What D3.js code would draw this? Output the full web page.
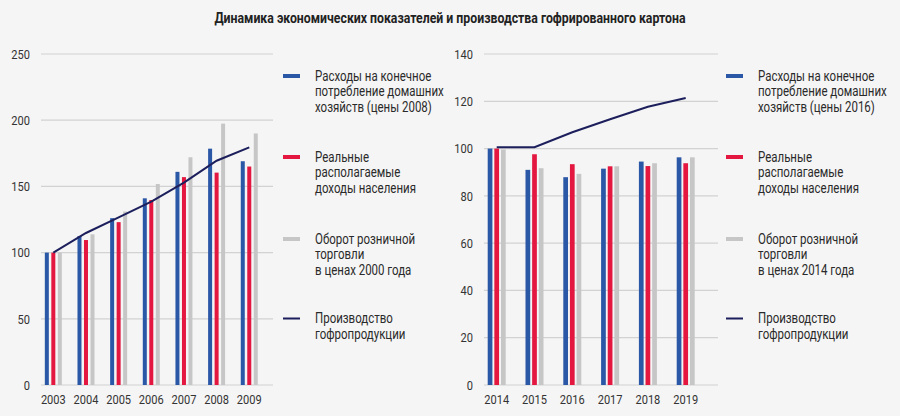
<!DOCTYPE html>
<html>
<head>
<meta charset="utf-8">
<script src="https://cdn.jsdelivr.net/npm/d3@7"></script>
<style>
  body { margin: 0; background: #f5f5f5; }
  svg text { font-family: "Liberation Sans Narrow", "Arial Narrow", "Roboto", sans-serif; fill: #333; }
</style>
</head>
<body>
<svg width="900" height="416"></svg>
<script>
// data, left chart (2003 = 100)
var years1 = ["2003", "2004", "2005", "2006", "2007", "2008", "2009"];
var spend1 = [100, 112.5, 126, 141, 161, 178.5, 169];
var income1 = [100, 109.5, 123, 139.7, 157, 160.4, 165];
var retail1 = [100, 113.8, 131, 151.8, 172, 197.4, 190];
var prod1 = [100, 114.8, 126.6, 138.5, 152.8, 169.4, 179.5];
var ticks1 = [0, 50, 100, 150, 200, 250];

// data, right chart (2014 = 100)
var years2 = ["2014", "2015", "2016", "2017", "2018", "2019"];
var spend2 = [100, 91, 87.9, 91.5, 94.5, 96.3];
var income2 = [100, 97.6, 93.4, 92.5, 92.6, 93.8];
var retail2 = [99.6, 91.7, 89.3, 92.5, 93.8, 96.3];
var prod2 = [100.6, 100.6, 106.9, 112.4, 117.7, 121.4];
var ticks2 = [0, 20, 40, 60, 80, 100, 120, 140];

var legend1 = [
  ["Расходы на конечное", "потребление домашних", "хозяйств (цены 2008)"],
  ["Реальные", "располагаемые", "доходы населения"],
  ["Оборот розничной", "торговли", "в ценах 2000 года"],
  ["Производство", "гофропродукции"]
];
var legend2 = [
  ["Расходы на конечное", "потребление домашних", "хозяйств (цены 2016)"],
  ["Реальные", "располагаемые", "доходы населения"],
  ["Оборот розничной", "торговли", "в ценах 2014 года"],
  ["Производство", "гофропродукции"]
];

var colors = ["#2b57a7", "#e3173f", "#c6c6c6", "#1c1f5c"];
var seriesKeys = ["spend", "income", "retail"];
var narrow = 0.82; // fake a condensed face

var svg = d3.select("svg");

// text squeezed horizontally around its anchor point
function label(parent, x, y, txt, size, anchor) {
  return parent.append("text")
      .attr("transform", "translate(" + x + "," + y + ") scale(" + narrow + ",1)")
      .attr("dy", "0.35em")
      .attr("text-anchor", anchor || "start")
      .style("font-size", size + "px")
      .text(txt);
}

label(svg, 450, 18, "Динамика экономических показателей и производства гофрированного картона", 15, "middle")
    .style("font-weight", "bold")
    .style("fill", "#222");

function drawChart(opt) {
  var g = svg.append("g");

  var y = d3.scaleLinear().domain([0, opt.max]).range([385, 54]);
  var x = d3.scaleBand().domain(opt.years).range(opt.xRange);
  var x1 = d3.scaleBand().domain(seriesKeys).range(opt.subRange).paddingInner(opt.subPad);

  // grid lines
  g.selectAll(".grid")
    .data(opt.ticks)
    .enter().append("line")
      .attr("x1", opt.gridX[0])
      .attr("x2", opt.gridX[1])
      .attr("y1", function(d) { return y(d); })
      .attr("y2", function(d) { return y(d); })
      .attr("stroke", "#d2d2d2")
      .attr("stroke-width", 1.2);

  opt.ticks.forEach(function(d) {
    label(g, opt.gridX[0] - 11, y(d), d, 13.5, "end");
  });

  opt.years.forEach(function(d) {
    label(g, x(d) + x.bandwidth() / 2, 399, d, 13.5, "middle");
  });

  var rows = opt.years.map(function(yr, i) {
    return { year: yr, spend: opt.spend[i], income: opt.income[i], retail: opt.retail[i] };
  });

  var groups = g.selectAll(".grp")
    .data(rows)
    .enter().append("g")
      .attr("transform", function(d) { return "translate(" + (x(d.year) + x.bandwidth() / 2) + ",0)"; });

  groups.selectAll("rect")
    .data(function(d) { return seriesKeys.map(function(k) { return { key: k, value: d[k] }; }); })
    .enter().append("rect")
      .attr("x", function(d) { return x1(d.key); })
      .attr("width", x1.bandwidth())
      .attr("y", function(d) { return y(d.value); })
      .attr("height", function(d) { return y(0) - y(d.value); })
      .attr("fill", function(d, i) { return colors[i]; });

  var line = d3.line()
      .x(function(d, i) { return x(opt.years[i]) + x.bandwidth() / 2; })
      .y(function(d) { return y(d); });

  g.append("path")
      .datum(opt.prod)
      .attr("fill", "none")
      .attr("stroke", colors[3])
      .attr("stroke-width", 2)
      .attr("d", line);

  // legend
  var legY = [76, 157, 239, 318.5];
  opt.legend.forEach(function(lines, i) {
    var lg = g.append("g");
    lg.append("rect")
        .attr("x", opt.legX)
        .attr("y", legY[i] - (i == 3 ? 1 : 2))
        .attr("width", 17)
        .attr("height", i == 3 ? 2 : 4)
        .attr("fill", colors[i]);
    lines.forEach(function(t, j) {
      label(lg, opt.legX + 32, legY[i] + j * 15.5, t, 14)
          .style("fill", "#2a2a2a");
    });
  });
}

drawChart({
  years: years1, spend: spend1, income: income1, retail: retail1, prod: prod1,
  ticks: ticks1, max: 250, xRange: [37, 265.6], subRange: [-8.5, 8.5], subPad: 0.385,
  gridX: [41, 273], legX: 283, legend: legend1
});

drawChart({
  years: years2, spend: spend2, income: income2, retail: retail2, prod: prod2,
  ticks: ticks2, max: 140, xRange: [477.8, 704.6], subRange: [-9, 9], subPad: 0.29,
  gridX: [484, 718], legX: 726, legend: legend2
});
</script>
</body>
</html>
